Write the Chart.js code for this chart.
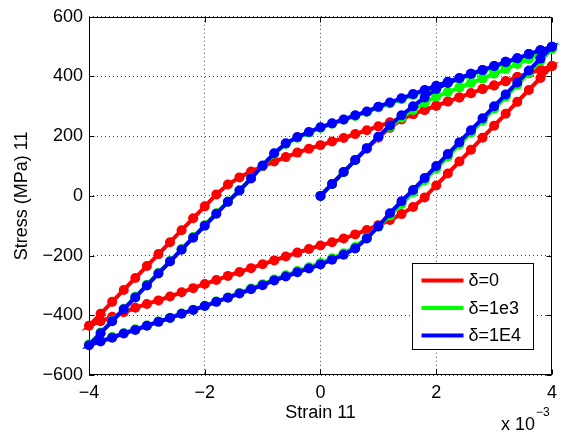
<!DOCTYPE html>
<html>
<head>
<meta charset="utf-8">
<script src="https://cdn.jsdelivr.net/npm/chart.js@4.4.1/dist/chart.umd.min.js"></script>
<style>
  html, body { margin: 0; padding: 0; background: #ffffff; }
  #wrap { width: 564px; height: 435px; position: relative; }
</style>
</head>
<body>
<div id="wrap"><canvas id="c" width="564" height="435"></canvas></div>
<script>
// ---------------- DATA (strain in units of 1e-3, stress in MPa) ----------------
const seriesLabels = ['\u03b4=0', '\u03b4=1e3', '\u03b4=1E4'];
const seriesColors = ['#ff0000', '#00ff00', '#0000ff'];

// strain points of the initial loading (0 -> 4)
const strainLoad = [0, 0.2, 0.4, 0.6, 0.8, 1.0, 1.2, 1.4, 1.6, 1.8, 2.0, 2.2, 2.4, 2.6, 2.8, 3.0, 3.2, 3.4, 3.6, 3.8, 4.0];
// strain points of the cyclic branches (ascending -4 -> 4)
const strainCycle = [-4.0, -3.8, -3.6, -3.4, -3.2, -3.0, -2.8, -2.6, -2.4, -2.2, -2.0, -1.8, -1.6, -1.4, -1.2, -1.0, -0.8, -0.6, -0.4, -0.2,
  0, 0.2, 0.4, 0.6, 0.8, 1.0, 1.2, 1.4, 1.6, 1.8, 2.0, 2.2, 2.4, 2.6, 2.8, 3.0, 3.2, 3.4, 3.6, 3.8, 4.0];

// delta = 0 (red)
const redLoad  = [0, 40, 80, 120, 158, 195, 228, 256, 274, 288, 302, 316, 330, 344, 358, 370, 384, 398, 411, 423, 435];
const redLower = [-435, -420, -405, -390, -375, -362, -350, -337, -323, -309, -295, -282, -268, -255, -242, -229, -216, -203, -190, -178,
  -166, -155, -143, -129, -114, -98, -81, -61, -37, -5, 35, 75, 115, 155, 195, 235, 275, 315, 355, 395, 435];
const redUpper = [-435, -395, -355, -315, -275, -235, -195, -155, -115, -75, -35, 5, 38, 62, 82, 99, 115, 130, 145, 158,
  170, 182, 194, 207, 220, 233, 247, 260, 274, 288, 302, 316, 330, 344, 358, 370, 384, 398, 411, 423, 435];

// delta = 1e3 (green)
const greenLoad  = [0, 40, 80, 120, 160, 197, 232, 262, 288, 312, 333, 348, 363, 378, 393, 409, 425, 442, 459, 476, 492];
const greenLower = [-498, -486, -473, -460, -447, -434, -421, -408, -394, -381, -368, -354, -340, -325, -310, -296, -280, -266, -252, -239,
  -225, -209, -192, -171, -140, -103, -66, -27, 12, 52, 92, 132, 172, 212, 252, 292, 332, 372, 412, 452, 492];
const greenUpper = [-498, -458, -418, -378, -338, -298, -258, -218, -178, -138, -98, -58, -19, 19, 59, 101, 141, 174, 195, 212,
  228, 242, 255, 268, 281, 296, 310, 324, 338, 352, 366, 379, 392, 405, 418, 431, 445, 458, 471, 484, 497];

// delta = 1E4 (blue)
const blueLoad  = [0, 40, 80, 120, 160, 198, 236, 270, 300, 330, 358, 378, 394, 409, 422, 435, 449, 461, 475, 488, 500];
const blueLower = [-500, -488, -475, -461, -449, -435, -422, -409, -395, -382, -369, -355, -341, -327, -313, -299, -283, -270, -256, -243,
  -230, -214, -197, -176, -143, -102, -58, -18, 20, 60, 100, 140, 180, 220, 260, 300, 340, 380, 420, 460, 500];
const blueUpper = [-500, -460, -420, -380, -340, -300, -260, -220, -180, -140, -100, -60, -20, 18, 58, 102, 143, 176, 197, 214,
  230, 243, 256, 270, 283, 299, 313, 327, 341, 355, 369, 382, 395, 409, 422, 435, 449, 461, 475, 488, 500];

const xTickValues = [-4, -2, 0, 2, 4];
const yTickValues = [-600, -400, -200, 0, 200, 400, 600];
const xTitle = 'Strain 11';
const yTitle = 'Stress (MPa) 11';
const xExponentBase = 'x 10';
const xExponent = '\u22123';

// ---------------- BUILD ----------------
function buildPath(load, lower, upper) {
  const pts = [];
  for (let i = 0; i < strainLoad.length; i++) pts.push({x: strainLoad[i], y: load[i]});
  for (let i = strainCycle.length - 2; i >= 0; i--) pts.push({x: strainCycle[i], y: lower[i]});
  for (let i = 1; i < strainCycle.length; i++) pts.push({x: strainCycle[i], y: upper[i]});
  return pts;
}
const paths = [
  buildPath(redLoad, redLower, redUpper),
  buildPath(greenLoad, greenLower, greenUpper),
  buildPath(blueLoad, blueLower, blueUpper)
];

const FONT = '"Liberation Sans", Arial, Helvetica, sans-serif';
const fmt = v => (v < 0 ? '\u2212' + Math.abs(v) : String(v));

const boxPlugin = {
  id: 'matlabBox',
  beforeDatasetsDraw(chart) {
    const ctx = chart.ctx;
    const {left, right, top, bottom} = chart.chartArea;
    const xs = chart.scales.x, ys = chart.scales.y;
    ctx.save();
    ctx.strokeStyle = '#000';
    ctx.lineWidth = 1;
    const L = Math.round(left) + 0.5, R = Math.round(right) - 0.5;
    const T = Math.round(top) + 0.5, B = Math.round(bottom) - 0.5;
    ctx.strokeRect(L, T, R - L, B - T);
    const tl = 5;
    ctx.beginPath();
    xTickValues.forEach(v => {
      const p = Math.round(xs.getPixelForValue(v)) + 0.5;
      ctx.moveTo(p, B); ctx.lineTo(p, B - tl);
      ctx.moveTo(p, T); ctx.lineTo(p, T + tl);
    });
    yTickValues.forEach(v => {
      const p = Math.round(ys.getPixelForValue(v)) + 0.5;
      ctx.moveTo(L, p); ctx.lineTo(L + tl, p);
      ctx.moveTo(R, p); ctx.lineTo(R - tl, p);
    });
    ctx.stroke();
    ctx.restore();
  },
  afterDraw(chart) {
    const ctx = chart.ctx;
    const {right, bottom} = chart.chartArea;
    ctx.save();
    // legend box
    const bx = Math.round(right) - 139.5, by = Math.round(bottom) - 111.5, bw = 121, bh = 86;
    ctx.fillStyle = '#fff';
    ctx.fillRect(bx, by, bw, bh);
    ctx.strokeStyle = '#000';
    ctx.lineWidth = 1;
    ctx.strokeRect(bx, by, bw, bh);
    ctx.font = '18px ' + FONT;
    ctx.textBaseline = 'middle';
    ctx.textAlign = 'left';
    chart.data.datasets.forEach((ds, i) => {
      const yy = by + 17 + i * 27.5;
      ctx.strokeStyle = ds.borderColor;
      ctx.lineWidth = 4;
      ctx.beginPath();
      ctx.moveTo(bx + 9, yy);
      ctx.lineTo(bx + 51, yy);
      ctx.stroke();
      ctx.fillStyle = '#000';
      ctx.fillText(ds.label, bx + 56, yy + 1);
    });
    // x exponent
    ctx.fillStyle = '#000';
    ctx.font = '18px ' + FONT;
    ctx.textAlign = 'right';
    ctx.textBaseline = 'middle';
    ctx.fillText(xExponentBase, Math.round(right) - 17, bottom + 50);
    ctx.font = '12px ' + FONT;
    ctx.textAlign = 'left';
    ctx.fillText(xExponent, Math.round(right) - 16, bottom + 38);
    ctx.restore();
  }
};

const datasets = paths.map((pts, i) => ({
  label: seriesLabels[i],
  data: pts,
  showLine: true,
  borderColor: seriesColors[i],
  backgroundColor: seriesColors[i],
  pointBackgroundColor: seriesColors[i],
  pointBorderWidth: 0,
  pointRadius: 5,
  borderWidth: 4,
  tension: 0,
  clip: false,
  order: 3 - i
}));

new Chart(document.getElementById('c'), {
  type: 'scatter',
  data: {datasets},
  plugins: [boxPlugin],
  options: {
    responsive: false,
    animation: false,
    devicePixelRatio: 1,
    layout: {padding: {left: 0, top: 15, right: 12, bottom: 0}},
    plugins: {legend: {display: false}, tooltip: {enabled: false}},
    scales: {
      x: {
        type: 'linear', min: -4, max: 4,
        afterFit: s => { s.height = 60; },
        afterBuildTicks: s => { s.ticks = xTickValues.map(v => ({value: v})); },
        ticks: {callback: fmt, color: '#000', font: {family: FONT, size: 18}, padding: 7, maxRotation: 0},
        grid: {color: 'rgba(0,0,0,0.75)', lineWidth: 1, drawTicks: false},
        border: {display: false, dash: [1, 3]},
        title: {display: true, text: xTitle, color: '#000', font: {family: FONT, size: 18}, padding: {top: 0, bottom: 11}}
      },
      y: {
        type: 'linear', min: -600, max: 600,
        afterFit: s => { s.width = 89; },
        afterBuildTicks: s => { s.ticks = yTickValues.map(v => ({value: v})); },
        ticks: {callback: fmt, color: '#000', font: {family: FONT, size: 18}, padding: 6},
        grid: {color: 'rgba(0,0,0,0.75)', lineWidth: 1, drawTicks: false},
        border: {display: false, dash: [1, 3]},
        title: {display: true, text: yTitle, color: '#000', font: {family: FONT, size: 18}, padding: {top: 11, bottom: 0}}
      }
    }
  }
});
</script>
</body>
</html>
